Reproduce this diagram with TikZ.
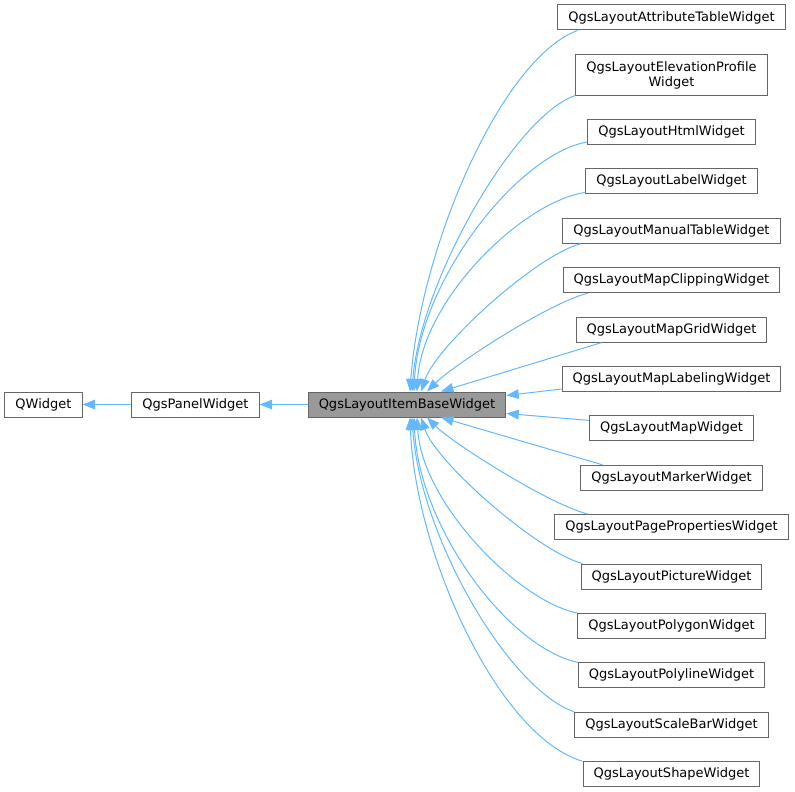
\documentclass[tikz,border=0pt]{standalone}
\usepackage{fontspec}
\setmainfont{DejaVu Sans}
\usetikzlibrary{arrows.meta}

\definecolor{edgeblue}{HTML}{63B8FF}
\definecolor{boxgrey}{HTML}{666666}
\definecolor{basegrey}{HTML}{999999}

\begin{document}
\begin{tikzpicture}[x=1pt,y=-1pt,
	cls/.style={draw=boxgrey,line width=1pt,fill=white,inner xsep=10.5pt,inner ysep=0pt,minimum height=25pt,font=\fontsize{13}{15}\selectfont,align=center},
	inh/.style={draw=edgeblue,line width=1pt,-{Triangle[length=12.5pt,width=9.5pt]}}]
	
	\useasboundingbox (0,0) rectangle (795,792);
	
	\node[cls] (qwidget) at (43.5,404.5) {QWidget};
	\node[cls] (panel) at (195.5,404.5) {QgsPanelWidget};
	\node[cls,fill=basegrey] (base) at (407,404.5) {QgsLayoutItemBaseWidget};
	
	\node[cls] (attr) at (671.5,17.5) {QgsLayoutAttributeTableWidget};
	\node[cls,minimum height=40pt] (elev) at (671.5,75) {QgsLayoutElevationProfile\\Widget};
	\node[cls] (html) at (671.5,132) {QgsLayoutHtmlWidget};
	\node[cls] (label) at (671.5,181.4) {QgsLayoutLabelWidget};
	\node[cls] (manual) at (671.5,230.8) {QgsLayoutManualTableWidget};
	\node[cls] (clip) at (671.5,280.2) {QgsLayoutMapClippingWidget};
	\node[cls] (grid) at (671.5,329.6) {QgsLayoutMapGridWidget};
	\node[cls] (labeling) at (671.5,379) {QgsLayoutMapLabelingWidget};
	\node[cls] (mapw) at (671.5,428.4) {QgsLayoutMapWidget};
	\node[cls] (marker) at (671.5,477.8) {QgsLayoutMarkerWidget};
	\node[cls] (page) at (671.5,527.2) {QgsLayoutPagePropertiesWidget};
	\node[cls] (picture) at (671.5,576.6) {QgsLayoutPictureWidget};
	\node[cls] (polygon) at (671.5,626) {QgsLayoutPolygonWidget};
	\node[cls] (polyline) at (671.5,675.4) {QgsLayoutPolylineWidget};
	\node[cls] (scalebar) at (671.5,724.8) {QgsLayoutScaleBarWidget};
	\node[cls] (shape) at (671.5,774.2) {QgsLayoutShapeWidget};
	
	\draw[inh] (panel) -- (qwidget);
	\draw[inh] (base) -- (panel);
	
	\draw[inh] ([xshift=20pt]attr.south west) .. controls +(-77,29) and +(10,-142) .. ([xshift=3pt]base.north);
	\draw[inh] (elev.south west) .. controls +(-60,20) and +(8,-110) .. ([xshift=5pt]base.north);
	\draw[inh] ([yshift=3pt]html.south west) .. controls +(-70,12) and +(5,-110) .. ([xshift=7pt]base.north);
	\draw[inh] ([yshift=2pt]label.south west) .. controls +(-65,10) and +(5,-90) .. ([xshift=10pt]base.north);
	\draw[inh] ([xshift=18pt]manual.south west) .. controls +(-45,12) and +(15,-45) .. ([xshift=14pt]base.north);
	\draw[inh] ([xshift=25pt]clip.south west) .. controls +(-40,10) and +(25,-25) .. ([xshift=20pt]base.north);
	\draw[inh] ([xshift=26pt]grid.south west) -- ([xshift=34pt]base.north);
	\draw[inh] ([yshift=3pt]labeling.south west) -- ([yshift=9pt]base.east);
	\draw[inh] ([yshift=-5pt]mapw.north west) -- ([yshift=-9pt]base.east);
	\draw[inh] ([xshift=22pt]marker.north west) -- ([xshift=34pt]base.south);
	\draw[inh] ([xshift=34pt]page.north west) .. controls +(-40,-10) and +(25,25) .. ([xshift=20pt]base.south);
	\draw[inh] ([xshift=2pt]picture.north west) .. controls +(-45,-12) and +(15,45) .. ([xshift=14pt]base.south);
	\draw[inh] (polygon.north west) .. controls +(-60,-12) and +(5,85) .. ([xshift=10pt]base.south);
	\draw[inh] (polyline.north west) .. controls +(-70,-15) and +(5,110) .. ([xshift=7pt]base.south);
	\draw[inh] (scalebar.north west) .. controls +(-65,-22) and +(8,120) .. ([xshift=5pt]base.south);
	\draw[inh] (shape.north west) .. controls +(-85,-25) and +(5,135) .. ([xshift=3pt]base.south);
\end{tikzpicture}
\end{document}
